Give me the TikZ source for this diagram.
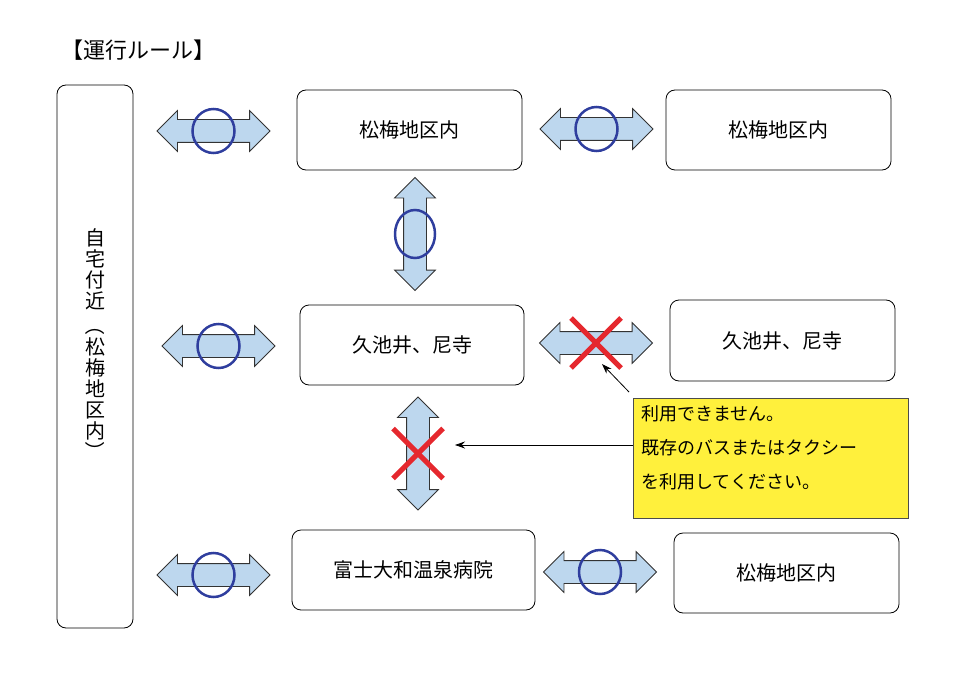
\documentclass[tikz,border=0pt]{standalone}
\usepackage{fontspec}
\usepackage{graphicx}
\setmainfont{Noto Sans CJK JP}
\usetikzlibrary{shapes.arrows,shapes.geometric,arrows.meta}
\definecolor{abl}{HTML}{BDD7EE}
\definecolor{ring}{HTML}{2F3E9E}
\definecolor{xred}{HTML}{E5282E}
\definecolor{yel}{HTML}{FFF03C}
\tikzset{
  box/.style={draw,thick,rounded corners=9pt,font=\fontsize{20}{23}\selectfont},
  darr/.style={double arrow,draw=black!80,fill=abl,thick,double arrow head extend=9pt,inner xsep=0pt,inner ysep=11pt,text height=0pt,text depth=0pt,minimum height=113pt},
  ringc/.style={draw=ring,line width=2.5pt,ellipse,inner sep=0pt},
}
\begin{document}
\begin{tikzpicture}[x=1pt,y=-1pt]
\useasboundingbox (0,0) rectangle (960,679);
\node[font=\fontsize{22}{25}\selectfont,anchor=west] (title) at (58,50) {【運行ルール】};
\node[box,minimum width=76pt,minimum height=543pt] (home) at (95,356.5) {};
\node[font=\fontsize{20}{23}\selectfont,align=center,inner sep=0pt] (hometxt) at (95,345) {自\\[-2pt]宅\\[-2pt]付\\[-2pt]近\\[2pt]\rotatebox[origin=c]{-90}{（}\\[-2pt]松\\[-2pt]梅\\[-2pt]地\\[-2pt]区\\[-2pt]内\\[-2pt]\rotatebox[origin=c]{-90}{）}};
\node[box,minimum width=225pt,minimum height=80pt] (b1) at (409.5,130) {松梅地区内};
\node[box,minimum width=225pt,minimum height=80pt] (b2) at (778.5,130) {松梅地区内};
\node[box,minimum width=224pt,minimum height=80pt] (b3) at (412,345) {久池井、尼寺};
\node[box,minimum width=225pt,minimum height=81pt] (b4) at (782.5,340.5) {久池井、尼寺};
\node[box,minimum width=243pt,minimum height=80pt] (b5) at (413.5,570) {富士大和温泉病院};
\node[box,minimum width=225pt,minimum height=80pt] (b6) at (786.5,573) {松梅地区内};
% arrows
\node[darr] (a1) at (213.5,131) {};
\node[darr] (a2) at (596.5,129) {};
\node[darr] (a3) at (218.5,346) {};
\node[darr] (a4) at (596,343) {};
\node[darr] (a5) at (213.5,575) {};
\node[darr] (a6) at (600,572) {};
\node[darr,rotate=90] (v1) at (415,234) {};
\node[darr,rotate=90] (v2) at (418,453.5) {};
% rings
\foreach \p in {a1,a2,a3,a5,a6}{\node[ringc,minimum width=42pt,minimum height=44pt] at (\p) {};}
\node[ringc,minimum width=40pt,minimum height=48pt] at (v1) {};
% crosses
\foreach \p in {a4,v2}{
  \draw[xred,line width=5pt] ([shift={(-25,-25)}]\p.center) -- ([shift={(25,25)}]\p.center);
  \draw[xred,line width=5pt] ([shift={(25,-25)}]\p.center) -- ([shift={(-25,25)}]\p.center);}
% note
\node[draw=black!70,fill=yel,minimum width=275pt,minimum height=120pt,anchor=north west,inner sep=0pt] (note) at (633,398) {};
\node[anchor=north west,align=left,font=\fontsize{18}{34}\selectfont,inner sep=0pt] (notetxt) at (641,405) {利用できません。\\既存のバスまたはタクシー\\を利用してください。};
\coordinate (t1) at (455,445);
\coordinate (t2) at (602,364);
\draw[-{Stealth[length=10pt,width=7pt]},thick] (note.west |- t1) -- (t1);
\draw[-{Stealth[length=10pt,width=7pt]},thick] ([xshift=-4pt,yshift=6pt]note.north west) -- (t2);
\end{tikzpicture}
\end{document}
